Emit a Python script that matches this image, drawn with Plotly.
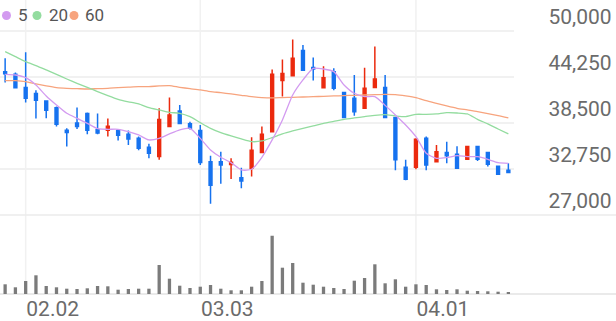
import plotly.graph_objects as go

dates = ["2026-01-29", "2026-01-30", "2026-02-02", "2026-02-03", "2026-02-04", "2026-02-05",
         "2026-02-06", "2026-02-09", "2026-02-10", "2026-02-11", "2026-02-12", "2026-02-13",
         "2026-02-19", "2026-02-20", "2026-02-23", "2026-02-24", "2026-02-25", "2026-02-26",
         "2026-02-27", "2026-03-03", "2026-03-04", "2026-03-05", "2026-03-06", "2026-03-09",
         "2026-03-10", "2026-03-11", "2026-03-12", "2026-03-13", "2026-03-16", "2026-03-17",
         "2026-03-18", "2026-03-19", "2026-03-20", "2026-03-23", "2026-03-24", "2026-03-25",
         "2026-03-26", "2026-03-27", "2026-03-30", "2026-03-31", "2026-04-01", "2026-04-02",
         "2026-04-03", "2026-04-06", "2026-04-07", "2026-04-08", "2026-04-09", "2026-04-10",
         "2026-04-13", "2026-04-14"]

open_ = [44900, 44600, 42950, 42200, 41250, 40400, 37600, 38500, 39700, 37650,
         37600, 37550, 37100, 36600, 35450, 34300, 38050, 40000, 38400, 37550,
         33650, 33650, 33300, 31650, 32850, 34800, 37400, 43800, 44400, 47550,
         45450, 42900, 44900, 42300, 41600, 40350, 42950, 42950, 39200, 32950,
         32950, 36600, 33650, 34800, 34600, 33950, 35550, 34800, 33100, 32600]
high = [46600, 44800, 47350, 42600, 41350, 40550, 37850, 40450, 39800, 39700,
        39050, 37750, 37550, 36800, 35900, 40350, 41700, 40750, 38650, 38250,
        34400, 34900, 34100, 32900, 36700, 38050, 45200, 46450, 48950, 48250,
        46700, 45600, 45350, 42400, 44500, 45400, 48050, 44500, 39200, 33900,
        36600, 36800, 35750, 36150, 35600, 35600, 35600, 34850, 33100, 33450]
low = [43550, 42800, 41050, 39050, 39100, 38050, 35550, 37750, 37100, 37100,
       36800, 36300, 35750, 35100, 34100, 33900, 38050, 38350, 37700, 33250,
       28400, 30900, 31500, 30350, 31800, 34800, 37400, 41800, 44400, 45100,
       43800, 42900, 42600, 39100, 39400, 40250, 42950, 39100, 32600, 31350,
       32700, 32600, 33550, 33450, 32850, 33900, 33750, 33050, 32000, 32300]
close = [44650, 42900, 41600, 41350, 40100, 38350, 37300, 38050, 37600, 37250,
         38100, 36950, 36500, 35350, 34700, 38950, 39500, 38450, 37850, 33550,
         30700, 33250, 33600, 31250, 35100, 37100, 44600, 44700, 46600, 45100,
         45250, 44150, 42850, 39200, 39900, 42850, 44000, 39200, 33900, 31450,
         36450, 33250, 34900, 34400, 32850, 35550, 33950, 33350, 32100, 32300]
volume = [97000, 67000, 130000, 187000, 80000, 67000, 53000, 50000, 57000, 80000,
          77000, 43000, 50000, 53000, 53000, 290000, 153000, 83000, 60000, 73000,
          90000, 53000, 37000, 37000, 73000, 130000, 583000, 263000, 310000, 113000,
          93000, 73000, 60000, 50000, 133000, 160000, 297000, 107000, 147000, 73000,
          97000, 90000, 47000, 40000, 47000, 33000, 30000, 27000, 23000, 13000]

ma5 = [44580, 44500, 44170, 43250, 41880, 40750, 39710, 39080, 38460, 37790,
       37710, 37710, 37420, 37000, 36380, 36580, 37130, 37630, 37830, 36580,
       35130, 34210, 33540, 32630, 32710, 34210, 36380, 38880, 42000, 43880,
       45330, 45250, 44920, 43250, 42210, 41790, 41790, 40700, 39500, 38250,
       36790, 34710, 34080, 34170, 34420, 34290, 34290, 33960, 33540, 33460]
ma20 = [47420, 46790, 46170, 45670, 45130, 44580, 44000, 43460, 42960, 42420,
        41920, 41460, 41150, 40880, 40420, 40130, 39830, 39710, 39290, 38540,
        37830, 37290, 36880, 36500, 36170, 36250, 36670, 37130, 37500, 37830,
        38130, 38460, 38710, 38960, 39130, 39290, 39460, 39540, 39380, 39290,
        39580, 39580, 39630, 39790, 39750, 39630, 38960, 38380, 37750, 37130]
ma60 = [43790, 43790, 43670, 43380, 43130, 42920, 42830, 42790, 42750, 42790,
        42830, 42920, 42980, 43040, 43040, 43130, 43170, 42960, 42790, 42630,
        42420, 42290, 42130, 41960, 41790, 41670, 41630, 41670, 41710, 41750,
        41790, 41830, 41880, 41920, 41960, 42000, 42040, 42080, 42040, 41880,
        41670, 41290, 40960, 40630, 40330, 40130, 39920, 39670, 39420, 39130]

y_ticks = [27000, 32750, 38500, 44250, 50000]
x_tick_dates = ["2026-02-02", "2026-03-03", "2026-04-01"]
x_tick_text = ["02.02", "03.03", "04.01"]
legend_labels = ["5", "20", "60"]

W, H = 616, 321
RED = "#eb2a0e"
BLUE = "#1672ef"
C5, C20, C60 = "#d39bf0", "#93dc9f", "#f7a47e"
GRID = "#f1f1f1"

fig = go.Figure()
fig.add_trace(go.Candlestick(
    x=dates, open=open_, high=high, low=low, close=close,
    increasing=dict(line=dict(color=RED, width=1.5), fillcolor=RED),
    decreasing=dict(line=dict(color=BLUE, width=1.5), fillcolor=BLUE),
    showlegend=False, xaxis="x", yaxis="y"))
for vals, col in [(ma60, C60), (ma20, C20), (ma5, C5)]:
    fig.add_trace(go.Scatter(x=dates, y=vals, mode="lines",
                             line=dict(color=col, width=1.3, shape="spline", smoothing=0.6),
                             showlegend=False, xaxis="x", yaxis="y"))
fig.add_trace(go.Bar(x=dates, y=volume, marker=dict(color="#7b7b7b", line=dict(width=0)),
                     width=0.32, showlegend=False, xaxis="x2", yaxis="y2"))

plot_right = 513.5 / W
price_bottom = 1 - 215 / H
ppx = 125.0
price_top = 50000 + 31 * ppx
vol_bottom = 1 - 294 / H
vol_top = 1 - 226 / H

fig.update_layout(
    width=W, height=H, margin=dict(l=0, r=0, t=0, b=0, autoexpand=False),
    paper_bgcolor="white", plot_bgcolor="white",
    boxgap=0.6,
    font=dict(family="Roboto", color="#666"),
    xaxis=dict(type="category", domain=[0, plot_right], range=[-0.5, 49.5],
               showgrid=False, showticklabels=False, zeroline=False, automargin=False,
               rangeslider=dict(visible=False), anchor="y"),
    yaxis=dict(domain=[price_bottom, 1], range=[26995, price_top], side="right",
               tickvals=y_ticks, ticktext=[f"{v:,}" for v in y_ticks],
               showgrid=True, gridcolor=GRID, gridwidth=1.5, zeroline=False,
               tickfont=dict(size=21, color="#6b6b6b"), ticks="", automargin=False,
               ticklabelshift=-14, ticklabelstandoff=34, anchor="x"),
    xaxis2=dict(type="category", domain=[0, plot_right], range=[-0.5, 49.5], matches="x",
                tickvals=x_tick_dates, ticktext=x_tick_text, showgrid=False,
                zeroline=False, ticks="", tickfont=dict(size=21, color="#6b6b6b"),
                ticklabelshift=27, automargin=False, anchor="y2"),
    yaxis2=dict(domain=[vol_bottom, vol_top], range=[0, 680000], showgrid=False,
                showticklabels=False, zeroline=False, automargin=False, anchor="x2"),
)

shapes = []
for d in x_tick_dates:
    shapes.append(dict(type="line", xref="x", yref="paper", x0=d, x1=d,
                       y0=vol_bottom, y1=1, line=dict(color=GRID, width=1.5), layer="below"))
shapes.append(dict(type="line", xref="paper", yref="paper", x0=0, x1=1,
                   y0=price_bottom, y1=price_bottom, line=dict(color="#ebebeb", width=1.5),
                   layer="below"))
shapes.append(dict(type="line", xref="paper", yref="paper", x0=0, x1=1,
                   y0=vol_bottom, y1=vol_bottom, line=dict(color="#e3e3e3", width=1.5),
                   layer="below"))

leg_y = 1 - 15.5 / H
dot_x = [6.5, 37, 74]
txt_x = [16, 47, 83]
for lab, col, dx, tx in zip(legend_labels, [C5, C20, C60], dot_x, txt_x):
    shapes.append(dict(type="circle", xref="paper", yref="paper",
                       xsizemode="pixel", ysizemode="pixel",
                       xanchor=dx / W, yanchor=leg_y, x0=-4.5, x1=4.5, y0=-4.5, y1=4.5,
                       fillcolor=col, line=dict(width=0)))
    fig.add_annotation(x=tx / W, y=leg_y, xref="paper", yref="paper", text=lab,
                       showarrow=False, font=dict(size=17, color="#555"),
                       xanchor="left", yanchor="middle")
fig.update_layout(shapes=shapes)

fig.write_html("out.html")
